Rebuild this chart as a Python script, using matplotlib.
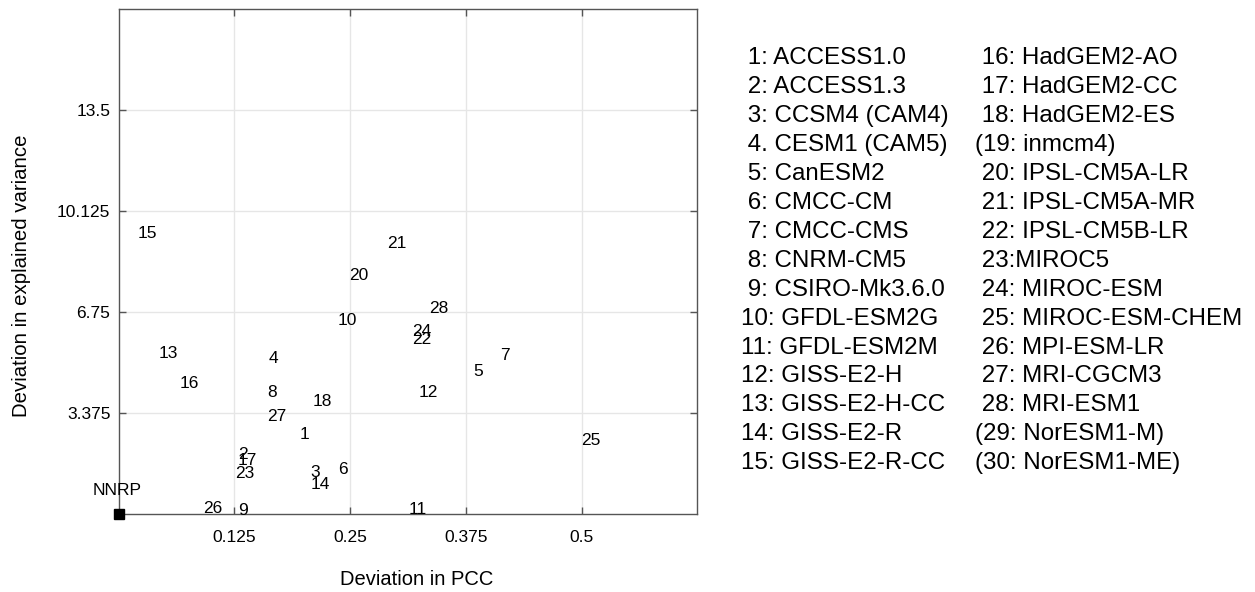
import matplotlib
matplotlib.use("Agg")
import matplotlib.pyplot as plt

plt.rcParams["font.family"] = ["Liberation Sans", "DejaVu Sans"]

# model index -> (deviation in PCC, deviation in explained variance)
model_ids = ["1", "2", "3", "4", "5", "6", "7", "8", "9", "10",
             "11", "12", "13", "14", "15", "16", "17", "18", "20", "21",
             "22", "23", "24", "25", "26", "27", "28"]
dev_pcc = [0.195, 0.129, 0.207, 0.162, 0.383, 0.237, 0.412, 0.161, 0.129, 0.236,
           0.313, 0.324, 0.043, 0.207, 0.020, 0.066, 0.128, 0.210, 0.249, 0.290,
           0.317, 0.126, 0.317, 0.500, 0.091, 0.160, 0.335]
dev_var = [2.68, 2.01, 1.39, 5.19, 4.78, 1.48, 5.29, 4.07, 0.12, 6.46,
           0.17, 4.06, 5.38, 1.00, 9.38, 4.37, 1.79, 3.76, 7.96, 9.05,
           5.84, 1.37, 6.10, 2.46, 0.20, 3.26, 6.88]

legend_col1 = [" 1: ACCESS1.0", " 2: ACCESS1.3", " 3: CCSM4 (CAM4)", " 4. CESM1 (CAM5)",
               " 5: CanESM2", " 6: CMCC-CM", " 7: CMCC-CMS", " 8: CNRM-CM5",
               " 9: CSIRO-Mk3.6.0", "10: GFDL-ESM2G", "11: GFDL-ESM2M", "12: GISS-E2-H",
               "13: GISS-E2-H-CC", "14: GISS-E2-R", "15: GISS-E2-R-CC"]
legend_col2 = [" 16: HadGEM2-AO", " 17: HadGEM2-CC", " 18: HadGEM2-ES", "(19: inmcm4)",
               " 20: IPSL-CM5A-LR", " 21: IPSL-CM5A-MR", " 22: IPSL-CM5B-LR", " 23:MIROC5",
               " 24: MIROC-ESM", " 25: MIROC-ESM-CHEM", " 26: MPI-ESM-LR", " 27: MRI-CGCM3",
               " 28: MRI-ESM1", "(29: NorESM1-M)", "(30: NorESM1-ME)"]

xticks = [0.125, 0.25, 0.375, 0.5]
yticks = [3.375, 6.75, 10.125, 13.5]
xtick_labels = ["0.125", "0.25", "0.375", "0.5"]
ytick_labels = ["3.375", "6.75", "10.125", "13.5"]

W, H = 1255, 592
fig = plt.figure(figsize=(W / 100, H / 100), dpi=100)
ax = fig.add_axes([118.7 / W, 1 - 514.3 / H, (697.3 - 118.7) / W, (514.3 - 9) / H])

ax.set_xlim(0, 0.625)
ax.set_ylim(0, 16.875)
ax.set_xticks(xticks)
ax.set_xticklabels(xtick_labels)
ax.set_yticks(yticks)
ax.set_yticklabels(ytick_labels)
ax.grid(True, color="#e6e6e6", linewidth=1)
ax.set_axisbelow(True)
ax.tick_params(direction="in", top=True, right=True, length=5, width=1,
               color="#555555", labelsize=12.5)
ax.tick_params(axis="x", pad=11.5)
ax.tick_params(axis="y", pad=6)
for s in ax.spines.values():
    s.set_color("#555555")
    s.set_linewidth(1)

for lab, x, y in zip(model_ids, dev_pcc, dev_var):
    ax.text(x, y, lab, fontsize=12.5, ha="left", va="center")

ax.plot([0], [0], "s", color="black", markersize=7, clip_on=False, zorder=5)
ax.text(-0.028, 0.79, "NNRP", fontsize=12.5, ha="left", va="center", clip_on=False)

ax.set_xlabel("Deviation in PCC", fontsize=14.5)
ax.set_ylabel("Deviation in explained variance", fontsize=14.7)
ax.xaxis.set_label_coords(0.515, -0.11)
ax.yaxis.set_label_coords(-0.152, 0.4726)

row0, step = 58.5, 28.9
for i, line in enumerate(legend_col1):
    fig.text(741 / W, 1 - (row0 + i * step) / H, line, fontsize=17.4, ha="left", va="center")
for i, line in enumerate(legend_col2):
    fig.text(975 / W, 1 - (row0 + i * step) / H, line, fontsize=17.4, ha="left", va="center")

fig.savefig("out.png", dpi=100)
